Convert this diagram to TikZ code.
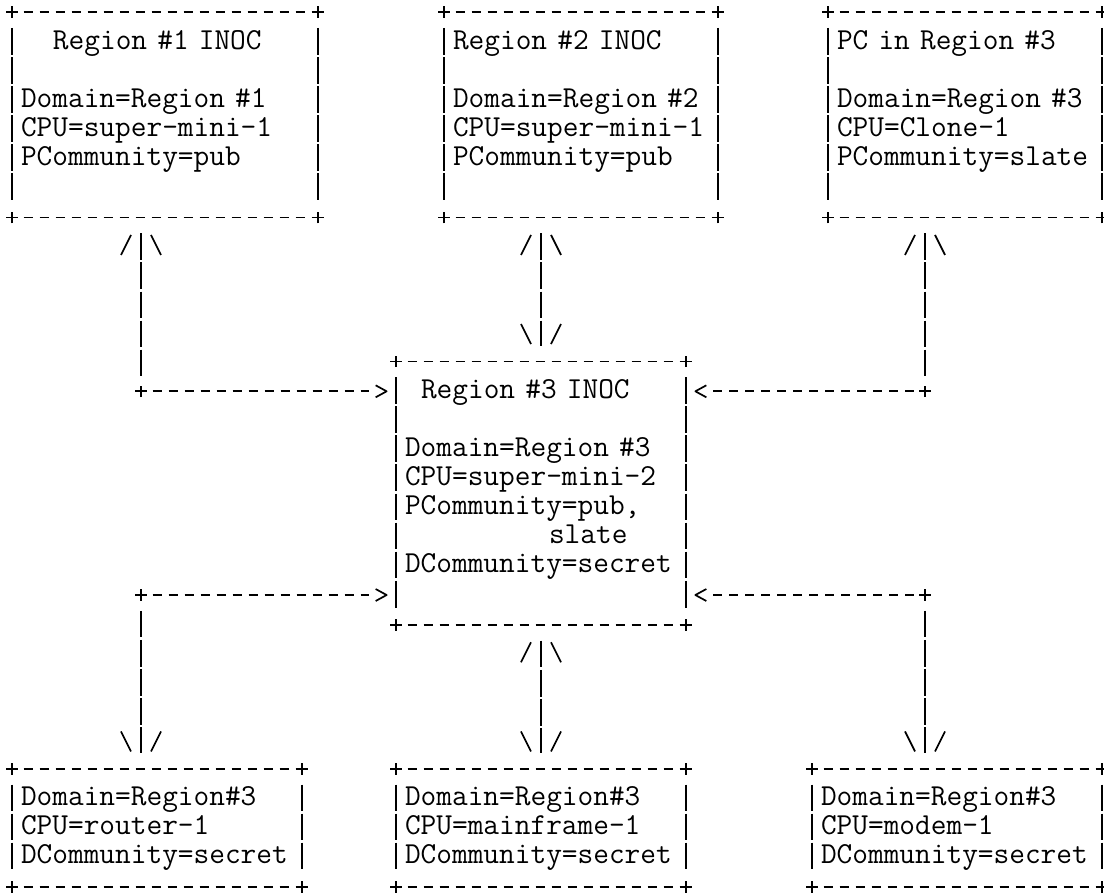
\documentclass[tikz,border=0pt]{standalone}
\setlength{\parindent}{0pt}
% strut giving every text row the same height
\newcommand{\rowstrut}{\rule[-3.775pt]{0pt}{14.55pt}}
% two loose strokes, as in /|\ and \|/
\pgfdeclarearrow{
  name = Slash,
  setup code = {
    \pgfarrowssettipend{0pt}
    \pgfarrowssetlineend{0pt}
    \pgfarrowssetbackend{-10.8pt}
    \pgfarrowshullpoint{0pt}{0pt}
    \pgfarrowshullpoint{-10.8pt}{10pt}
    \pgfarrowshullpoint{-10.8pt}{-10pt}
  },
  drawing code = {
    \pgfsetdash{}{0pt}
    \pgfpathmoveto{\pgfqpoint{-0.8pt}{5pt}}
    \pgfpathlineto{\pgfqpoint{-10.8pt}{10pt}}
    \pgfpathmoveto{\pgfqpoint{-0.8pt}{-5pt}}
    \pgfpathlineto{\pgfqpoint{-10.8pt}{-10pt}}
    \pgfusepathqstroke
  }
}
% a > that stands off the dashes
\pgfdeclarearrow{
  name = Chev,
  setup code = {
    \pgfarrowssettipend{0pt}
    \pgfarrowssetlineend{-9pt}
    \pgfarrowssetbackend{-5.5pt}
    \pgfarrowshullpoint{0pt}{0pt}
    \pgfarrowshullpoint{-5.5pt}{3pt}
    \pgfarrowshullpoint{-5.5pt}{-3pt}
  },
  drawing code = {
    \pgfsetdash{}{0pt}
    \pgfsetroundjoin
    \pgfpathmoveto{\pgfqpoint{-5.5pt}{3pt}}
    \pgfpathlineto{\pgfqpoint{0pt}{0pt}}
    \pgfpathlineto{\pgfqpoint{-5.5pt}{-3pt}}
    \pgfusepathqstroke
  }
}
\begin{document}
\begin{tikzpicture}[x=8pt, y=-14.55pt, line width=0.85pt,
    box/.style={rectangle, inner xsep=4pt, inner ysep=0pt, align=left,
      font=\ttfamily\fontsize{15.238pt}{14.55pt}\selectfont},
    hline/.style={dash pattern=on 4.5pt off 3.5pt, dash phase=2.25pt},
    vline/.style={dash pattern=on 13.35pt off 1.2pt}]
  \useasboundingbox (-0.8125,-0.447) rectangle (68.1875,30.343);
  % top row of boxes
  \node[box, minimum width=152pt, minimum height=101.85pt, text width=144pt] (inoc1) at (9.5,3.5)
    {\hspace*{16pt}Region \#1 INOC\rowstrut\\ \rowstrut\\ Domain=Region \#1\rowstrut\\ CPU=super-mini-1\rowstrut\\ PCommunity=pub\rowstrut\\ \rowstrut};
  \node[box, minimum width=136pt, minimum height=101.85pt, text width=128pt] (inoc2) at (35.5,3.5)
    {Region \#2 INOC\rowstrut\\ \rowstrut\\ Domain=Region \#2\rowstrut\\ CPU=super-mini-1\rowstrut\\ PCommunity=pub\rowstrut\\ \rowstrut};
  \node[box, minimum width=136pt, minimum height=101.85pt, text width=128pt] (pc3) at (59.5,3.5)
    {PC in Region \#3\rowstrut\\ \rowstrut\\ Domain=Region \#3\rowstrut\\ CPU=Clone-1\rowstrut\\ PCommunity=slate\rowstrut\\ \rowstrut};
  % middle box
  \node[box, minimum width=144pt, minimum height=130.95pt, text width=136pt] (inoc3) at (33,16.5)
    {\hspace*{8pt}Region \#3 INOC\rowstrut\\ \rowstrut\\ Domain=Region \#3\rowstrut\\ CPU=super-mini-2\rowstrut\\ PCommunity=pub,\rowstrut\\ \hspace*{72pt}slate\rowstrut\\ DCommunity=secret\rowstrut\\ \rowstrut};
  % bottom row of boxes
  \node[box, minimum width=144pt, minimum height=58.2pt, text width=136pt] (router) at (9,28)
    {Domain=Region\#3\rowstrut\\ CPU=router-1\rowstrut\\ DCommunity=secret\rowstrut};
  \node[box, minimum width=144pt, minimum height=58.2pt, text width=136pt] (mainframe) at (33,28)
    {Domain=Region\#3\rowstrut\\ CPU=mainframe-1\rowstrut\\ DCommunity=secret\rowstrut};
  \node[box, minimum width=144pt, minimum height=58.2pt, text width=136pt] (modem) at (59,28)
    {Domain=Region\#3\rowstrut\\ CPU=modem-1\rowstrut\\ DCommunity=secret\rowstrut};
  % bends of the side links
  \coordinate (c1) at (8,13);
  \coordinate (c2) at (57,13);
  \coordinate (c3) at (8,20);
  \coordinate (c4) at (57,20);
  % draw the frames, dashed like rows of - and |
  \foreach \b in {inoc1,inoc2,pc3,inoc3,router,mainframe,modem} {
    \draw[hline] (\b.north west) -- (\b.north east);
    \draw[hline] (\b.south west) -- (\b.south east);
    \draw[vline] ([yshift=-7.875pt]\b.north west) -- ([yshift=7.875pt]\b.south west);
    \draw[vline] ([yshift=-7.875pt]\b.north east) -- ([yshift=7.875pt]\b.south east);
    \foreach \a in {north west,north east,south west,south east}
      \draw ([xshift=-2.9pt]\b.\a) -- ([xshift=2.9pt]\b.\a) ([yshift=-2.9pt]\b.\a) -- ([yshift=2.9pt]\b.\a);
  }
  % draw the + at the bends
  \foreach \c in {c1,c2,c3,c4}
    \draw ([xshift=-2.9pt]\c) -- ([xshift=2.9pt]\c) ([yshift=-2.9pt]\c) -- ([yshift=2.9pt]\c);
  % Region #1 INOC <-> Region #3 INOC
  \draw[vline, Slash-, shorten <=7.875pt, shorten >=7.875pt] (inoc1.south -| c1) -- (c1);
  \draw[hline, -Chev, shorten >=4.75pt] (c1) -- (c1 -| inoc3.west);
  % Region #2 INOC <-> Region #3 INOC
  \draw[vline, Slash-Slash, shorten <=7.875pt, shorten >=7.875pt] (inoc2.south -| inoc3.north) -- (inoc3.north);
  % PC in Region #3 <-> Region #3 INOC
  \draw[vline, Slash-, shorten <=7.875pt, shorten >=7.875pt] (pc3.south -| c2) -- (c2);
  \draw[hline, -Chev, shorten >=4.75pt] (c2) -- (c2 -| inoc3.east);
  % Region #3 INOC <-> router
  \draw[hline, -Chev, shorten >=4.75pt] (c3) -- (c3 -| inoc3.west);
  \draw[vline, -Slash, shorten <=7.875pt, shorten >=7.875pt] (c3) -- (c3 |- router.north);
  % Region #3 INOC <-> mainframe
  \draw[vline, Slash-Slash, shorten <=7.875pt, shorten >=7.875pt] (inoc3.south) -- (mainframe.north);
  % Region #3 INOC <-> modem
  \draw[hline, -Chev, shorten >=4.75pt] (c4) -- (c4 -| inoc3.east);
  \draw[vline, -Slash, shorten <=7.875pt, shorten >=7.875pt] (c4) -- (c4 |- modem.north);
\end{tikzpicture}
\end{document}
